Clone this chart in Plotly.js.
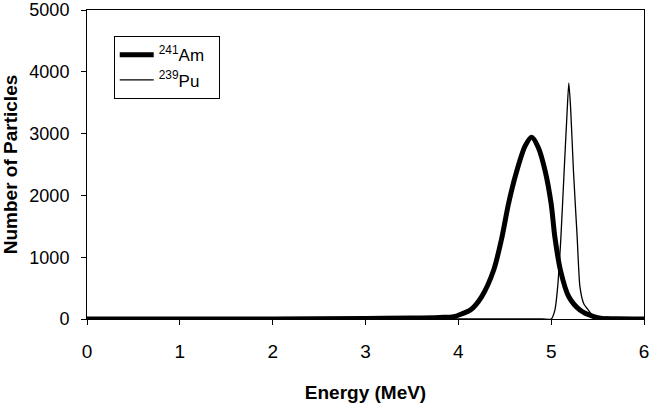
<!DOCTYPE html>
<html>
<head>
<meta charset="utf-8">
<script src="https://cdn.plot.ly/plotly-3.0.1.min.js"></script>
<style>html,body{margin:0;padding:0;background:#fff;}#chart{width:650px;height:403px;}</style>
</head>
<body>
<div id="chart"></div>
<script>
// Energy (MeV) and counts
const amEnergy = [0, 1.0, 2.0, 3.0, 3.5, 3.8, 3.95, 4.05, 4.13, 4.25, 4.38, 4.47, 4.54, 4.63, 4.72, 4.79, 4.86, 4.935, 5.00, 5.04, 5.10, 5.19, 5.31, 5.46, 5.55, 5.7, 6.0];
const amCounts = [0, 0, 2, 8, 15, 25, 37, 90, 145, 359, 789, 1325, 1862, 2398, 2800, 2940, 2780, 2398, 1862, 1325, 789, 359, 145, 37, 10, 3, 0];

const puEnergy = [0, 4.9, 5.00, 5.04, 5.07, 5.105, 5.14, 5.17, 5.19, 5.21, 5.24, 5.28, 5.31, 5.35, 5.40, 5.46, 5.52, 5.57, 5.60, 5.64, 5.7, 6.0];
const puCounts = [0, 0, 0, 145, 520, 1325, 2398, 3300, 3819, 3400, 2398, 1325, 520, 252, 145, 37, 10, 25, 35, 20, 0, 0];

const xTicks = [0, 1, 2, 3, 4, 5, 6];
const yTicks = [0, 1000, 2000, 3000, 4000, 5000];

const font = "Liberation Sans, Arial, sans-serif";

const traces = [
  {x: amEnergy, y: amCounts, type: "scatter", mode: "lines", name: "<sup>241</sup>Am\u00a0\u00a0",
   line: {color: "#000", width: 5, shape: "spline", smoothing: 0.8}},
  {x: puEnergy, y: puCounts, type: "scatter", mode: "lines", name: "<sup>239</sup>Pu",
   line: {color: "#000", width: 1.3, shape: "spline", smoothing: 0.6}}
];

const layout = {
  width: 650, height: 403,
  margin: {l: 87, r: 6, t: 10, b: 84},
  paper_bgcolor: "#fff", plot_bgcolor: "#fff",
  font: {family: font, color: "#000", size: 18},
  showlegend: true,
  legend: {x: 0.048, y: 0.915, xanchor: "left", yanchor: "top",
           bordercolor: "#000", borderwidth: 1, bgcolor: "#fff", itemwidth: 34,
           font: {family: font, size: 17, color: "#000"}, tracegroupgap: 0},
  xaxis: {range: [0, 6], tickvals: xTicks, ticktext: xTicks.map(String),
          showgrid: false, zeroline: false, showline: true, linecolor: "#000", linewidth: 1,
          mirror: true, ticks: "outside", ticklen: 5, tickcolor: "#000",
          ticklabelstandoff: 10, ticklabeloverflow: "allow",
          tickfont: {family: font, size: 19},
          title: {text: "<b>Energy (MeV)</b>", font: {family: font, size: 19}, standoff: 27}},
  yaxis: {range: [0, 5000], tickvals: yTicks, ticktext: yTicks.map(String),
          showgrid: false, zeroline: false, showline: true, linecolor: "#000", linewidth: 1,
          mirror: true, ticks: "outside", ticklen: 5, tickcolor: "#000",
          ticklabelstandoff: 8, ticklabeloverflow: "allow",
          tickfont: {family: font, size: 18},
          title: {text: "<b>Number of Particles</b>", font: {family: font, size: 19}, standoff: 6}}
};

Plotly.newPlot("chart", traces, layout, {staticPlot: true, displayModeBar: false});
</script>
</body>
</html>
